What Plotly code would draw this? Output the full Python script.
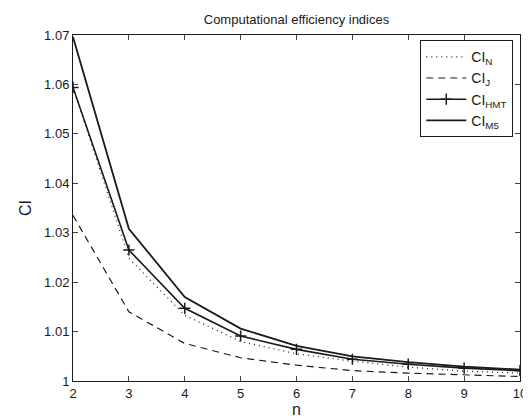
import plotly.graph_objects as go

n = [2, 3, 4, 5, 6, 7, 8, 9, 10]
ci_n = [1.0594, 1.0248, 1.0133, 1.0080, 1.0055, 1.0040, 1.0028, 1.0020, 1.0016]
ci_j = [1.0335, 1.0140, 1.0076, 1.0047, 1.0032, 1.0021, 1.0016, 1.0012, 1.0009]
ci_hmt = [1.0594, 1.0265, 1.0147, 1.0091, 1.0064, 1.0044, 1.0034, 1.0026, 1.0021]
ci_m5 = [1.0696, 1.0308, 1.0170, 1.0106, 1.0071, 1.0050, 1.0038, 1.0029, 1.0023]

y_ticks = [1.0, 1.01, 1.02, 1.03, 1.04, 1.05, 1.06, 1.07]
y_tick_labels = ["1", "1.01", "1.02", "1.03", "1.04", "1.05", "1.06", "1.07"]
x_ticks = [2, 3, 4, 5, 6, 7, 8, 9, 10]

ink = "#1a1a1a"
fig = go.Figure()
fig.add_trace(go.Scatter(x=n, y=ci_n, mode="lines", name="CI<sub>N</sub>",
                         line=dict(color=ink, width=1.2, dash="1px,4px")))
fig.add_trace(go.Scatter(x=n, y=ci_j, mode="lines", name="CI<sub>J</sub>",
                         line=dict(color=ink, width=1.2, dash="7px,5px")))
fig.add_trace(go.Scatter(x=n, y=ci_hmt, mode="lines+markers", name="CI<sub>HMT</sub>",
                         line=dict(color=ink, width=1.6),
                         marker=dict(symbol="cross-thin", size=8,
                                     line=dict(color=ink, width=1.5), color=ink)))
fig.add_trace(go.Scatter(x=n, y=ci_m5, mode="lines", name="CI<sub>M5</sub>",
                         line=dict(color=ink, width=1.8)))

font = "Liberation Sans, Arial, sans-serif"
fig.update_layout(
    width=531, height=420,
    margin=dict(l=65, r=16, t=27, b=38),
    paper_bgcolor="white", plot_bgcolor="white",
    font=dict(family=font, size=13, color=ink),
    title=dict(text="Computational efficiency indices", x=0.5, xref="paper",
               xanchor="center", y=0.972, yanchor="middle",
               font=dict(family=font, size=13, color=ink)),
    showlegend=True,
    legend=dict(x=0.985, y=0.985, xanchor="right", yanchor="top",
                bgcolor="white", bordercolor=ink, borderwidth=1,
                font=dict(family=font, size=14, color=ink),
                tracegroupgap=0, itemwidth=40),
    xaxis=dict(range=[2, 10], tickvals=x_ticks, ticks="inside", ticklen=5,
               showline=True, linecolor=ink, linewidth=1, mirror="ticks",
               showgrid=False, zeroline=False, title=dict(text="n", standoff=4),
               tickfont=dict(size=13)),
    yaxis=dict(range=[1, 1.07], tickvals=y_ticks, ticktext=y_tick_labels,
               ticks="inside", ticklen=5, showline=True, linecolor=ink, linewidth=1,
               mirror="ticks", showgrid=False, zeroline=False,
               title=dict(text="CI", standoff=8), tickfont=dict(size=13)),
)
fig.write_html("out.html")
